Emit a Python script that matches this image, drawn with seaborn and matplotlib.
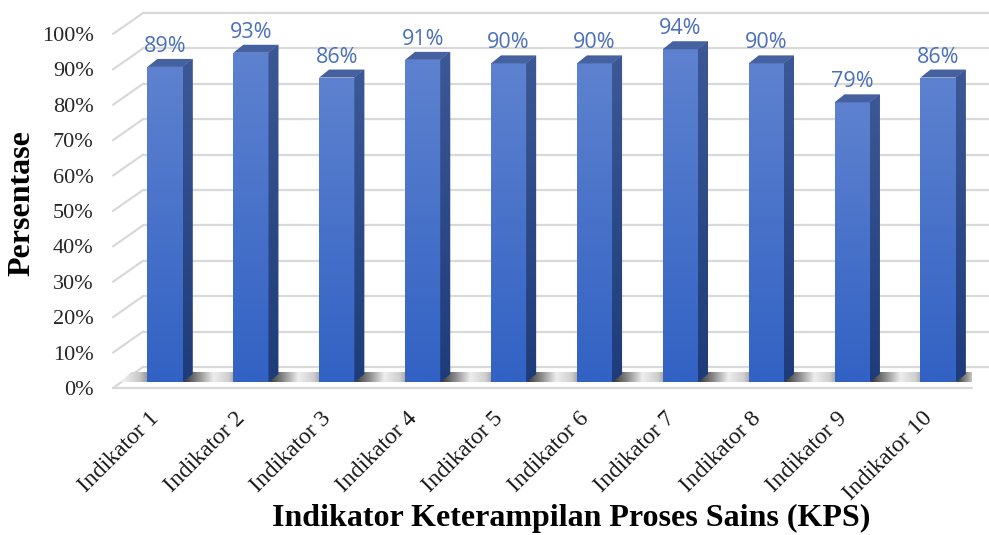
import numpy as np
import pandas as pd
import matplotlib
matplotlib.use("Agg")
import matplotlib.pyplot as plt
import seaborn as sns
from matplotlib.transforms import IdentityTransform, ScaledTranslation
from matplotlib.patches import Polygon
from matplotlib.lines import Line2D
from matplotlib.colors import LinearSegmentedColormap

# ---------------- data ----------------
categories = ["Indikator 1", "Indikator 2", "Indikator 3", "Indikator 4", "Indikator 5",
              "Indikator 6", "Indikator 7", "Indikator 8", "Indikator 9", "Indikator 10"]
values = [89, 93, 86, 91, 90, 90, 94, 90, 79, 86]
yticks = [0, 10, 20, 30, 40, 50, 60, 70, 80, 90, 100]
ytick_labels = ["0%", "10%", "20%", "30%", "40%", "50%", "60%", "70%", "80%", "90%", "100%"]
x_title = "Indikator Keterampilan Proses Sains (KPS)"
y_title = "Persentase"

# ---------------- style ----------------
sns.set_style("white")
plt.rcParams["font.family"] = ["Liberation Serif", "DejaVu Serif"]

W, H, DPI = 989, 535, 100
fig = plt.figure(figsize=(W / DPI, H / DPI), dpi=DPI)
fig.patch.set_facecolor("white")

# front plane of the 3D box (pixel coords, top origin)
L, R, B, T = 113, 972, 388, 34
ax = fig.add_axes([L / W, 1 - B / H, (R - L) / W, (B - T) / H])

df = pd.DataFrame({"Indikator": categories, "Persentase": values})
sns.barplot(data=df, x="Indikator", y="Persentase", ax=ax, color="#4A74CB",
            width=0.41, saturation=1, zorder=3, edgecolor="none")
ax.set_xlim(-0.5, len(categories) - 0.5)
ax.set_ylim(0, 100)
ax.patch.set_visible(False)
for s in ax.spines.values():
    s.set_visible(False)
ax.grid(False)
ax.set_xlabel("")
ax.set_ylabel("")
ax.set_xticks([])
ax.set_yticks(yticks)
ax.set_yticklabels(ytick_labels, fontsize=16, color="#262626")
ax.tick_params(axis="y", length=0, pad=14)

# offsets (display pixels, y up)
BAR_DX, BAR_DY = 9, 6      # bar front face relative to front plane
DEP_DX, DEP_DY = 10, 8     # bar depth
BACK_DX, BACK_DY = 30, 21  # back wall relative to front plane

ident = IdentityTransform()


def px(x, y):
    return ax.transData.transform((x, y))


# ---------------- grid (back wall + side wall) ----------------
grid_c = "#d9d9d9"
xl = px(-0.5, 0)[0]
xr = px(len(categories) - 0.5, 0)[0]
for v in yticks:
    yf = px(0, v)[1]
    yb = yf + BACK_DY
    ax.add_line(Line2D([xl + BACK_DX, W + 10], [yb, yb], transform=ident, color=grid_c,
                       lw=1.6, zorder=1, clip_on=False))
    ax.add_line(Line2D([xl, xl + BACK_DX], [yf, yb], transform=ident, color=grid_c,
                       lw=1.6, zorder=1, clip_on=False))
y0f = px(0, 0)[1]
ax.add_line(Line2D([xl, xr], [y0f, y0f], transform=ident, color=grid_c,
                   lw=1.6, zorder=1, clip_on=False))

# ---------------- 3D bars ----------------
front_cmap = LinearSegmentedColormap.from_list("f", ["#3262C4", "#5E82CF"])
side_cmap = LinearSegmentedColormap.from_list("s", ["#1E3B7A", "#3C5896"])
shadow_cmap = LinearSegmentedColormap.from_list(
    "sh", ["#333333", "#8a8a8a", "#eeeeee", "#cfcfcf", "#6a6a6a"])
grad_v = np.linspace(0, 1, 256).reshape(-1, 1)[::-1]
grad_h = np.linspace(0, 1, 256).reshape(1, -1)

off = ScaledTranslation(BAR_DX / DPI, BAR_DY / DPI, fig.dpi_scale_trans)
faces = []
for p in ax.patches:
    x0, w, h = p.get_x(), p.get_width(), p.get_height()
    X0, Y0 = px(x0, 0) + (BAR_DX, BAR_DY)
    X1, Y1 = px(x0 + w, h) + (BAR_DX, BAR_DY)
    faces.append((X0, Y0, X1, Y1))
    p.set_transform(ax.transData + off)
    im = ax.imshow(grad_v, cmap=front_cmap, extent=(X0, X1, Y0, Y1), transform=ident,
                   aspect="auto", zorder=4, interpolation="bilinear")
    im.set_clip_path(p)
    side = Polygon([(X1, Y0), (X1 + DEP_DX, Y0 + DEP_DY), (X1 + DEP_DX, Y1 + DEP_DY), (X1, Y1)],
                   closed=True, transform=ident, facecolor="#2B4886", edgecolor="none", zorder=3)
    ax.add_patch(side)
    ims = ax.imshow(grad_v, cmap=side_cmap, extent=(X1, X1 + DEP_DX, Y0, Y1 + DEP_DY),
                    transform=ident, aspect="auto", zorder=4, interpolation="bilinear")
    ims.set_clip_path(side)
    top = Polygon([(X0, Y1), (X1, Y1), (X1 + DEP_DX, Y1 + DEP_DY), (X0 + DEP_DX, Y1 + DEP_DY)],
                  closed=True, transform=ident, facecolor="#45619F", edgecolor="none", zorder=4)
    ax.add_patch(top)

# floor shadows between the bars
for i in range(len(faces) + 1):
    if i == 0:
        a, b = xl + 8, faces[0][0]
        cmap = LinearSegmentedColormap.from_list("l", ["#f4f4f4", "#c8c8c8", "#5a5a5a"])
    else:
        a = faces[i - 1][2]
        b = faces[i][0] if i < len(faces) else xr + 12
        cmap = shadow_cmap
    yb0 = faces[0][1]
    sh = Polygon([(a, yb0), (b, yb0), (b + DEP_DX, yb0 + DEP_DY + 2), (a + DEP_DX, yb0 + DEP_DY + 2)],
                 closed=True, transform=ident, facecolor="none", edgecolor="none")
    ax.add_patch(sh)
    imsh = ax.imshow(grad_h, cmap=cmap, extent=(a, b + DEP_DX, yb0, yb0 + DEP_DY + 2),
                     transform=ident, aspect="auto", zorder=2, interpolation="bilinear")
    imsh.set_clip_path(sh)

ax.set_xlim(-0.5, len(categories) - 0.5)
ax.set_ylim(0, 100)

# ---------------- data labels ----------------
lab_off = ScaledTranslation(BAR_DX / DPI, (BAR_DY + 15) / DPI, fig.dpi_scale_trans)
for p, v in zip(ax.patches, values):
    cx = p.get_x() + p.get_width() / 2
    ax.text(cx, v, f"{v}%", transform=ax.transData + lab_off, ha="center", va="baseline",
            fontsize=15.5, color="#4A70BA", family=["Open Sans", "DejaVu Sans"], zorder=6,
            clip_on=False)

# ---------------- category labels ----------------
cat_off = ScaledTranslation(-7 / DPI, -20 / DPI, fig.dpi_scale_trans)
for i, name in enumerate(categories):
    ax.text(i, 0, name, transform=ax.transData + cat_off, rotation=45, ha="right", va="top",
            rotation_mode="anchor", fontsize=17, color="#1a1a1a", clip_on=False)

# ---------------- axis titles ----------------
fig.text(571 / W, 1 - 526 / H, x_title, ha="center", va="baseline", fontsize=23,
         fontweight="bold", color="black")
fig.text(22 / W, 1 - 203 / H, y_title, ha="center", va="center", rotation=90,
         fontsize=23, fontweight="bold", color="black")

fig.savefig("out.png", dpi=DPI)
